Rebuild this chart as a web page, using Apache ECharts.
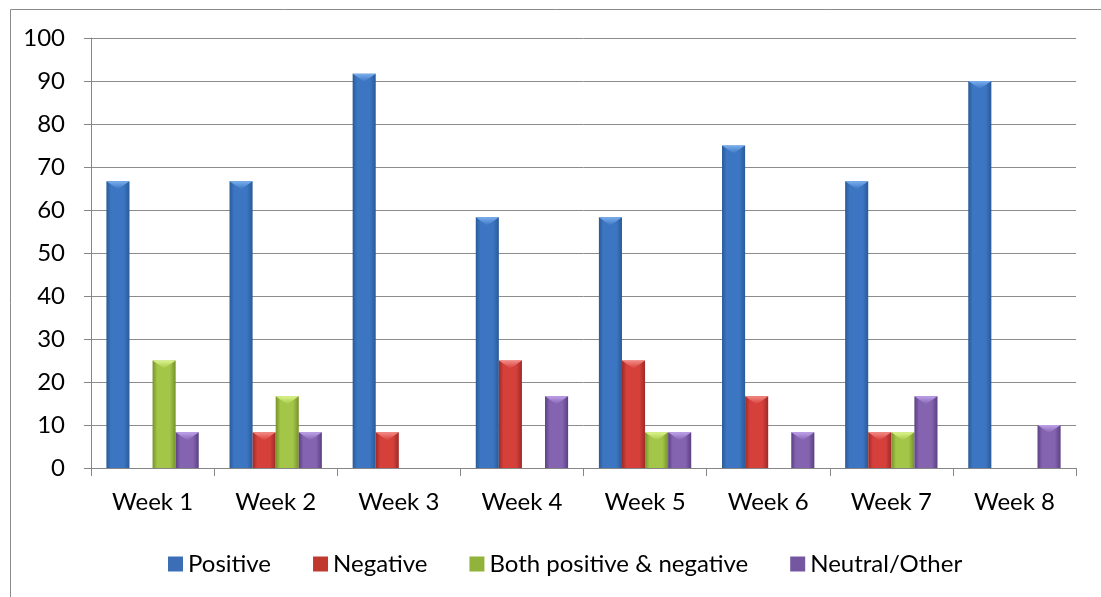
<!DOCTYPE html>
<html><head><meta charset="utf-8">
<script src="https://cdn.jsdelivr.net/npm/echarts@6/dist/echarts.min.js"></script>
<style>html,body{margin:0;padding:0;background:#fff}#c{width:1101px;height:597px}</style>
</head><body><div id="c"></div>
<script>
const categories = ['Week 1','Week 2','Week 3','Week 4','Week 5','Week 6','Week 7','Week 8'];
const positive = [66.7, 66.7, 91.7, 58.3, 58.3, 75, 66.7, 90];
const negative = [0, 8.3, 8.3, 25, 25, 16.7, 8.3, 0];
const both = [25, 16.7, 0, 0, 8.3, 0, 8.3, 0];
const neutral = [8.3, 8.3, 0, 16.7, 8.3, 8.3, 16.7, 10];
const seriesNames = ['Positive','Negative','Both positive & negative','Neutral/Other'];

const palette = [
  {edge:'#2a5a98', mid:'#3c76c2', top:'#7aaeee', legend:'#3a6fb5'},
  {edge:'#9e2a27', mid:'#d5403b', top:'#f58a85', legend:'#c0392f'},
  {edge:'#76922a', mid:'#a3c548', top:'#dcf58c', legend:'#92b33b'},
  {edge:'#5a4082', mid:'#8463b0', top:'#bea2ea', legend:'#7457a0'}
];
const font = 'Lato, "Open Sans", sans-serif';
const chart = echarts.init(document.getElementById('c'), null, {renderer:'canvas'});

function mk(idx, data) {
  const p = palette[idx];
  return {
    name: seriesNames[idx], type:'custom',
    itemStyle:{color:p.legend},
    data: data.map((v,i) => [i, v]),
    encode:{x:0, y:1},
    renderItem(params, api) {
      const v = api.value(1);
      if (!v) return null;
      const cat = api.value(0);
      const base = api.coord([cat, 0]);
      const top = api.coord([cat, v]);
      const band = api.size([1, 0])[0];
      const bw = band * 0.75 / 4;
      const x0 = base[0] - band * 0.375 + idx * bw;
      const y0 = top[1];
      const h = base[1] - top[1];
      const bev = Math.min(bw * 0.35, h);
      return {type:'group', children:[
        {type:'rect', shape:{x:x0, y:y0, width:bw, height:h},
          style:{fill:new echarts.graphic.LinearGradient(0,0,1,0,[
            {offset:0,color:p.edge},{offset:0.2,color:p.mid},{offset:0.75,color:p.mid},{offset:1,color:p.edge}])}},
        {type:'polygon', shape:{points:[[x0,y0],[x0+bw,y0],[x0+bw*0.5,y0+bev]]},
          style:{fill:new echarts.graphic.LinearGradient(0,0,0,1,[
            {offset:0,color:p.top},{offset:1,color:p.mid}])}}
      ]};
    }
  };
}
chart.setOption({
  animation:false,
  graphic:[{type:'rect', left:8, top:7, shape:{width:1200, height:700}, style:{fill:'none', stroke:'#8a8a8a', lineWidth:1}, silent:true}],
  grid:{left:91, right:25, top:38, bottom:129},
  legend:{top:547, left:163, itemWidth:15, itemHeight:15, itemGap:42, icon:'rect',
    textStyle:{fontSize:24, fontFamily:font, color:'#000'},
    data:seriesNames},
  xAxis:{type:'category', data:categories,
    axisLine:{lineStyle:{color:'#868686'}},
    axisTick:{show:true, length:8, lineStyle:{color:'#868686'}},
    axisLabel:{fontSize:24, fontFamily:font, color:'#000', margin:22}},
  yAxis:{type:'value', min:0, max:100, interval:10,
    axisLine:{show:true, lineStyle:{color:'#868686'}},
    axisTick:{show:true, length:7, lineStyle:{color:'#868686'}},
    splitLine:{lineStyle:{color:'#8c8c8c'}},
    axisLabel:{fontSize:24, fontFamily:font, color:'#000', margin:26}},
  series:[mk(0, positive), mk(1, negative), mk(2, both), mk(3, neutral)]
});
</script></body></html>
